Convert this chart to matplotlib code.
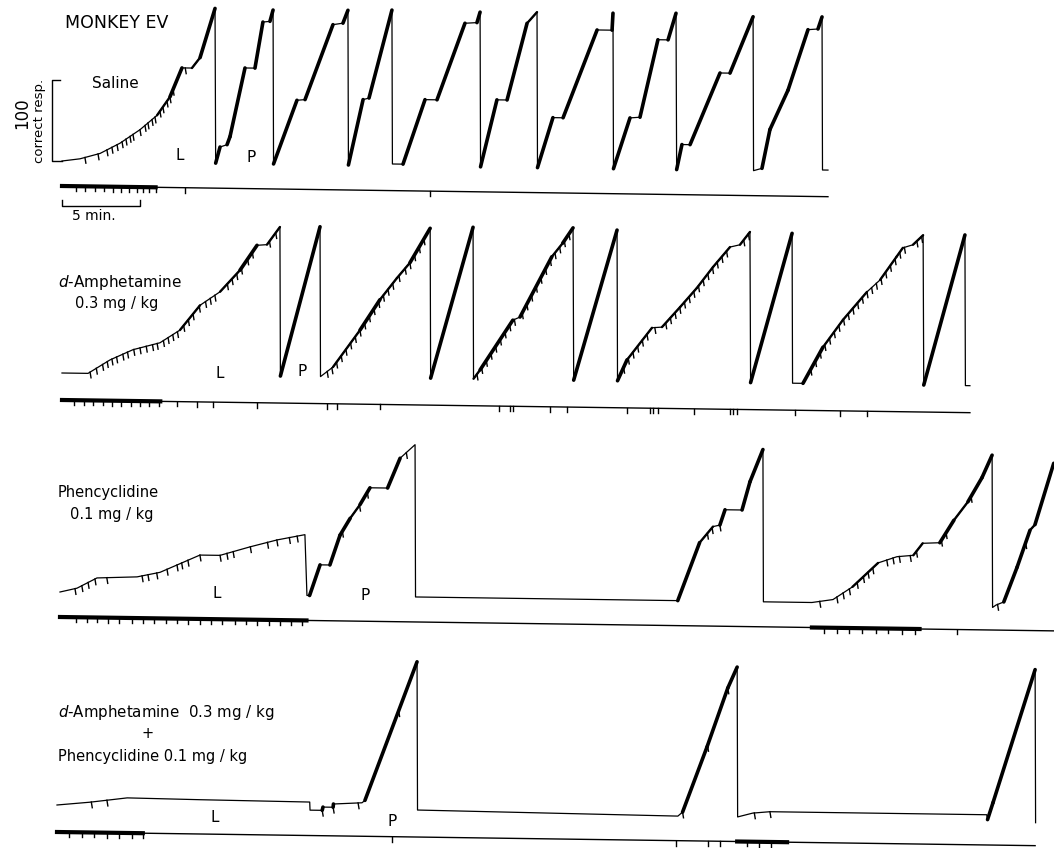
import numpy as np
import matplotlib.pyplot as plt
from matplotlib.transforms import Affine2D

W, H = 1054, 848
PX_PER_MIN = 15.6      # 5 min = 78 px on the recorder paper
PX_PER_RESP = 0.81     # 100 correct responses = 81 px
SKEW = -0.8            # the scanned record runs slightly downhill

# ---- Saline ----
sal_t = [0, 1.15, 2.44, 3.72, 5.0, 6.09, 6.92, 7.69, 8.33, 8.85, 9.81, 9.85,
         10.13, 10.58, 10.77, 11.73, 12.37, 12.88, 13.33, 13.53, 13.56,
         15.06, 15.58, 17.37, 18.01, 18.33, 18.36,
         19.3, 19.68, 21.15, 21.18, 21.86,
         23.27, 24.04, 25.83, 26.6, 26.8, 26.83,
         27.88, 28.53, 29.81, 30.45, 30.48,
         31.47, 32.12, 34.3, 35.26, 35.32, 35.35,
         36.41, 37.05, 38.2, 38.85, 39.36, 39.4,
         39.74, 40.26, 42.18, 42.82, 44.3, 44.33,
         44.87, 45.38, 46.54, 47.82, 48.46, 48.72, 48.75, 49.1]
sal_r = [0, 3, 10, 23, 40, 58, 81, 117, 117, 130, 191, 0,
         20, 23, 33, 118, 118, 175, 176, 190, 0,
         79, 80, 173, 175, 191, 0,
         81, 83, 192, 2, 2,
         82, 82, 177, 178, 191, 0,
         83, 83, 178, 192, 0,
         62, 62, 171, 171, 192, 0,
         63, 64, 160, 160, 193, 0,
         31, 31, 120, 120, 190, 0,
         3, 51, 100, 175, 176, 191, 2, 2]
sal_pips = [1.47, 2.31, 2.88, 3.2, 3.53, 3.85, 4.1, 4.36, 4.55, 5.0, 5.32, 5.51,
            5.77, 5.96, 6.28, 6.47, 6.73, 6.92, 7.12, 7.9]
sal_ev_thick = [(0, 6.0)]
sal_ev_ticks = [0.9, 1.5, 2.1, 2.7, 3.3, 3.8, 4.3, 4.8, 5.2, 5.6, 6.0, 7.9, 23.6]

# ---- d-Amphetamine 0.3 mg/kg ----
amph_t = [0, 1.67, 3.08, 4.55, 6.28, 7.56, 8.85, 10.13, 11.41, 12.5, 13.14, 13.97, 14.0,
          16.54, 16.57,
          17.37, 19.1, 20.38, 21.47, 22.3, 23.6, 23.63,
          26.35, 26.38,
          26.8, 28.9, 29.36, 31.4, 32.1, 32.76, 32.8,
          35.58, 35.61,
          36.22, 37.82, 38.46, 39.62, 40.7, 41.73, 42.82, 43.46, 44.1, 44.14,
          46.8, 46.83, 47.5,
          48.78, 50.06, 51.6, 52.44, 53.5, 53.9, 54.55, 55.2, 55.24,
          57.88, 57.91, 58.2]
amph_r = [0, 0, 17, 30, 39, 55, 86, 103, 130, 161, 162, 184, 0,
          185, 0,
          12, 58, 96, 123, 142, 185, 0,
          187, 0,
          11, 73, 77, 152, 169, 188, 0,
          186, 0,
          26, 66, 67, 92, 116, 142, 167, 170, 186, 0,
          185, 0, 0,
          45, 79, 114, 129, 158, 169, 173, 185, 0,
          186, 0, 0]
amph_pips = [1.8, 2.2, 2.6, 2.9, 3.2, 3.5, 3.9, 4.2, 4.6, 5.0, 5.4, 5.8, 6.1, 6.5,
             6.8, 7.1, 7.4, 7.8, 8.1, 8.4, 8.8, 9.2, 9.5, 9.8, 10.6, 10.9, 11.2,
             11.5, 11.9, 12.2, 13.3, 13.7,
             17.0, 17.3, 17.6, 17.9, 18.2, 18.5, 18.8, 19.1, 19.4, 19.7, 20.0,
             20.3, 20.6, 20.9, 21.2, 21.6, 22.0, 22.3, 22.6, 22.9, 23.2,
             26.6, 26.9, 27.2, 27.5, 27.8, 28.1, 28.4, 28.7, 29.0, 29.5, 29.8,
             30.1, 30.4, 30.7, 31.0, 31.3, 31.6, 31.9, 32.2, 32.5,
             36.0, 36.3, 36.6, 36.9, 37.2, 37.5, 38.0, 38.7, 39.0, 39.3, 39.6,
             39.9, 40.2, 40.5, 40.8, 41.1, 41.4, 41.7, 42.0, 42.3, 42.6, 43.7, 44.0,
             48.0, 48.3, 48.6, 48.9, 49.2, 49.5, 49.8, 50.1, 50.4, 50.7, 51.0,
             51.3, 51.6, 51.9, 52.2, 52.5, 52.8, 53.1, 53.4, 53.7, 54.0, 54.8, 55.1]
amph_ev_thick = [(0, 6.3)]
amph_ev_ticks = [0.8, 1.4, 2.0, 2.6, 3.2, 3.8, 4.4, 5.0, 5.6, 6.2, 7.37, 8.65, 9.68,
                 12.5, 17.0, 17.6, 20.4, 28.0, 28.7, 28.9, 31.3, 32.4, 36.2, 37.7,
                 37.9, 38.2, 40.5, 42.8, 43.0, 43.3, 47.0, 49.9, 51.6]

# ---- Phencyclidine 0.1 mg/kg ----
pcp_t = [0, 1.09, 2.37, 4.94, 6.41, 8.97, 10.26, 12.18, 13.91, 15.7, 15.83, 16.0,
         16.67, 17.3, 17.95, 18.6, 19.23, 19.87, 21.0, 21.8, 22.76, 22.79,
         39.6, 41.0, 41.86, 42.3, 42.63, 43.72, 44.23, 45.06, 45.09,
         48.2, 49.55, 50.8, 52.44, 53.65, 54.7, 55.3, 56.4, 57.3, 58.2, 59.1, 59.75, 59.78,
         60.0, 60.5, 61.35, 62.18, 62.5, 63.7]
pcp_r = [0, 5, 18, 20, 26, 48, 48, 59, 68, 75, 0, 0,
         38, 38, 75, 96, 113, 134, 134, 171, 188, 0,
         0, 72, 92, 94, 113, 113, 148, 188, 0,
         0, 4, 20, 50, 58, 60, 75, 76, 104, 127, 157, 185, -3,
         0, 4, 47, 93, 100, 176]
pcp_pips = [0.96, 1.4, 1.8, 2.24, 3.0, 5.26, 5.64, 6.2, 6.86, 7.5, 7.8, 8.2, 8.97,
            10.26, 10.7, 11.1, 12.2, 13.3, 13.9, 14.7, 15.2,
            18.1, 19.2, 19.7, 22.2,
            41.5, 41.8, 42.3,
            48.7, 49.8, 50.2, 50.6, 51.1, 51.5, 51.8, 52.1, 53.0, 53.4, 53.8,
            54.5, 54.9, 56.5, 56.8, 58.4, 60.1, 61.9]
pcp_ev_thick = [(0, 15.8), (48.2, 55.1)]
pcp_ev_ticks = [1.0, 1.7, 2.4, 3.1, 3.8, 4.6, 5.3, 6.0, 6.8, 7.5, 8.2, 9.0, 9.7,
                10.4, 11.2, 11.9, 12.6, 13.4, 14.1, 14.8, 15.5,
                49.0, 49.8, 50.6, 51.4, 52.3, 53.1, 54.0, 54.8, 57.5]

# ---- d-Amphetamine + Phencyclidine ----
combo_t = [0, 2.1, 4.5, 9.17, 16.2, 16.22, 17.0, 17.05, 17.7, 17.72, 19.55, 19.74, 23.08, 23.11,
           39.8, 40.1, 41.67, 43.0, 43.6, 43.63,
           44.6, 45.7, 59.6, 59.65, 60.0, 62.7, 62.73]
combo_r = [0, 4, 10, 9, 8, -2, -2, 2, 2, 6, 8, 11, 183, 0,
           -3, 2, 83, 156, 182, -3,
           2, 4, 4, -2, 19, 184, -5]
combo_pips = [2.2, 3.2, 17.0, 17.7, 19.3, 21.9, 40.1, 41.7, 43.0, 44.7, 45.7]
combo_ev_thick = [(0, 5.5), (43.6, 46.8)]
combo_ev_ticks = [0.8, 1.6, 2.4, 3.2, 4.0, 4.8, 5.5, 21.5, 39.7, 41.7, 42.5,
                  44.2, 45.0, 45.8]

# panel placement on the page: (start x px, pen baseline px, event-pen offset px, end of paper in min)
panels = [
    (sal_t, sal_r, sal_pips, sal_ev_thick, sal_ev_ticks, 62, 161, 25, 49.1),
    (amph_t, amph_r, amph_pips, amph_ev_thick, amph_ev_ticks, 62, 373, 27, 58.2),
    (pcp_t, pcp_r, pcp_pips, pcp_ev_thick, pcp_ev_ticks, 60, 592, 25, 63.7),
    (combo_t, combo_r, combo_pips, combo_ev_thick, combo_ev_ticks, 57, 805, 27, 62.7),
]


def add_panel(fig, x0, base):
    ax = fig.add_axes([0, 0, 1, 1])
    ax.set_xlim(-x0 / PX_PER_MIN, (W - x0) / PX_PER_MIN)
    ax.set_ylim((base - H) / PX_PER_RESP, base / PX_PER_RESP)
    ax.axis('off')
    return ax


def draw_record(ax, t, r, pips, ev_thick, ev_ticks, ev_off, ev_end):
    t = np.asarray(t, float)
    r = np.asarray(r, float)
    x0d, y0d = ax.transData.transform((0, 0))
    skew = Affine2D().translate(-x0d, -y0d).skew_deg(0, SKEW).translate(x0d, y0d)
    tr = ax.transData + skew

    # pen trace
    ax.plot(t, r, color='k', lw=0.9, transform=tr)
    dt = np.diff(t)
    dr = np.diff(r)
    rate = dr / np.maximum(dt, 1e-6)
    for i in np.where((dr > 0) & (rate > 18))[0]:
        lw = 2.6 if rate[i] > 28 else 1.7
        ax.plot(t[i:i + 2], r[i:i + 2], color='k', lw=lw, transform=tr,
                solid_capstyle='round')

    # error pips hanging from the curve
    for tp in pips:
        yp = np.interp(tp, t, r)
        ax.plot([tp, tp + 0.06], [yp, yp - 7], color='k', lw=1.0, transform=tr)

    # event pen
    ye = -ev_off / PX_PER_RESP
    ax.plot([0, ev_end], [ye, ye], color='k', lw=1.0, transform=tr)
    for a, b in ev_thick:
        ax.plot([a, b], [ye, ye], color='k', lw=3.0, transform=tr)
    for tk in ev_ticks:
        ax.plot([tk, tk], [ye, ye - 6], color='k', lw=1.0, transform=tr)


fig = plt.figure(figsize=(W / 100, H / 100), dpi=100)
axes = []
for t, r, pips, thick, ticks, x0, base, off, end in panels:
    ax = add_panel(fig, x0, base)
    draw_record(ax, t, r, pips, thick, ticks, off, end)
    axes.append(ax)

# calibration bars on the saline record
ax1 = axes[0]
ax1.plot([-0.15, -0.64, -0.64, 0], [100, 100, 0, 0], color='k', lw=1.0)
ax1.plot([0, 0, 5, 5], [-48, -56, -56, -48], color='k', lw=1.0)


def px(x, y):
    return x / W, 1 - y / H


font = dict(family='DejaVu Sans', color='k')
fig.text(*px(65, 23), 'MONKEY EV', fontsize=12.5, va='center', **font)
fig.text(*px(92, 84), 'Saline', fontsize=11, va='center', **font)
fig.text(*px(22, 113), '100', fontsize=12, rotation=90, ha='center', va='center', **font)
fig.text(*px(40, 121), 'correct resp.', fontsize=9.5, rotation=90, ha='center', va='center', **font)
fig.text(*px(72, 216), '5 min.', fontsize=10, va='center', **font)

fig.text(*px(58, 283), r'$\it{d}$-Amphetamine', fontsize=11, va='center', **font)
fig.text(*px(75, 304), '0.3 mg / kg', fontsize=10.5, va='center', **font)
fig.text(*px(58, 492), 'Phencyclidine', fontsize=10.5, va='center', **font)
fig.text(*px(70, 514), '0.1 mg / kg', fontsize=10.5, va='center', **font)
fig.text(*px(58, 713), r'$\it{d}$-Amphetamine  0.3 mg / kg', fontsize=10.8, va='center', **font)
fig.text(*px(148, 733), '+', fontsize=10.5, ha='center', va='center', **font)
fig.text(*px(58, 757), 'Phencyclidine 0.1 mg / kg', fontsize=10.5, va='center', **font)

for x, y, s in [(180, 155, 'L'), (251, 157, 'P'), (220, 373, 'L'), (302, 372, 'P'),
                (217, 593, 'L'), (365, 596, 'P'), (215, 818, 'L'), (392, 822, 'P')]:
    fig.text(*px(x, y), s, fontsize=11, ha='center', va='center', **font)

fig.savefig('out.png', dpi=100)
